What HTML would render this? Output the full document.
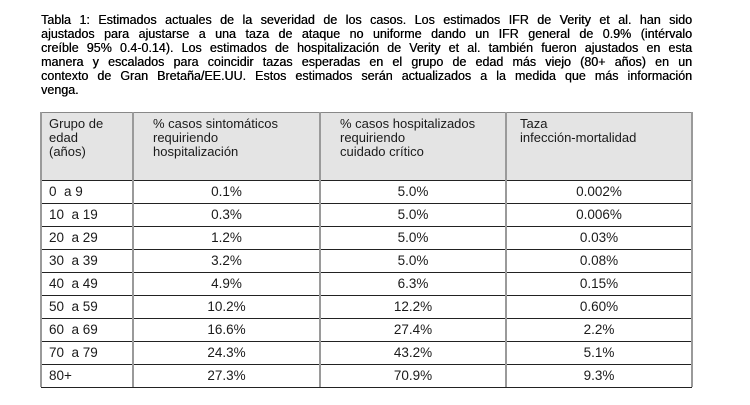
<!DOCTYPE html>
<html><head><meta charset="utf-8"><style>
body{margin:0;width:750px;height:405px;background:#fff;position:relative;font-family:"Liberation Sans",sans-serif;color:#000;overflow:hidden}
.l{position:absolute;left:41px;width:651px;font-size:12.5px;line-height:14px;white-space:nowrap;text-align:justify;text-align-last:justify;text-shadow:0.3px 0 0 #000}
.hd{position:absolute;top:112px;height:68px;background:#e4e4e4;left:41px;width:651px}
.v{position:absolute;top:112px;height:275px;width:2px;background:#9a9a9a}
.hz{position:absolute;left:41px;width:651px;height:1px;background:#222}
.c{position:absolute;font-size:13.5px;line-height:23px;height:23px;text-align:center;color:#1a1a1a}
.ht{position:absolute;font-size:13px;line-height:14px;top:117px;color:#1a1a1a}
</style></head><body>
<div class="l" style="top:13px">Tabla 1: Estimados actuales de la severidad de los casos. Los estimados IFR de Verity et al. han sido</div>
<div class="l" style="top:27px">ajustados para ajustarse a una taza de ataque no uniforme dando un IFR general de 0.9% (intérvalo</div>
<div class="l" style="top:41px">creíble 95% 0.4-0.14). Los estimados de hospitalización de Verity et al. también fueron ajustados en esta</div>
<div class="l" style="top:55px">manera y escalados para coincidir tazas esperadas en el grupo de edad más viejo (80+ años) en un</div>
<div class="l" style="top:69px">contexto de Gran Bretaña/EE.UU. Estos estimados serán actualizados a la medida que más información</div>
<div class="l" style="top:83px;text-align-last:left">venga.</div>
<div class="hd"></div>
<div class="hz" style="top:112px;background:#888"></div>
<div class="hz" style="top:180px"></div>
<div class="hz" style="top:203px"></div>
<div class="hz" style="top:226px"></div>
<div class="hz" style="top:249px"></div>
<div class="hz" style="top:272px"></div>
<div class="hz" style="top:295px"></div>
<div class="hz" style="top:318px"></div>
<div class="hz" style="top:341px"></div>
<div class="hz" style="top:364px"></div>
<div class="hz" style="top:387px"></div>
<div class="v" style="left:40px"></div>
<div class="v" style="left:132px"></div>
<div class="v" style="left:319px"></div>
<div class="v" style="left:505px"></div>
<div class="v" style="left:691px"></div>
<div class="ht" style="left:49px">Grupo de<br>edad<br>(años)</div>
<div class="ht" style="left:153px">% casos sintomáticos<br>requiriendo<br>hospitalización</div>
<div class="ht" style="left:340px">% casos hospitalizados<br>requiriendo<br>cuidado crítico</div>
<div class="ht" style="left:520px">Taza<br>infección-mortalidad</div>
<div id="rows"></div>
<script>
var d=[["0 &nbsp;a 9","0.1%","5.0%","0.002%"],["10 &nbsp;a 19","0.3%","5.0%","0.006%"],["20 &nbsp;a 29","1.2%","5.0%","0.03%"],["30 &nbsp;a 39","3.2%","5.0%","0.08%"],["40 &nbsp;a 49","4.9%","6.3%","0.15%"],["50 &nbsp;a 59","10.2%","12.2%","0.60%"],["60 &nbsp;a 69","16.6%","27.4%","2.2%"],["70 &nbsp;a 79","24.3%","43.2%","5.1%"],["80+","27.3%","70.9%","9.3%"]];
var h="";d.forEach(function(r,i){var t=180+i*23;
h+='<div class="c" style="top:'+t+'px;left:49px;text-align:left">'+r[0]+'</div>';
h+='<div class="c" style="top:'+t+'px;left:133px;width:187px">'+r[1]+'</div>';
h+='<div class="c" style="top:'+t+'px;left:320px;width:186px">'+r[2]+'</div>';
h+='<div class="c" style="top:'+t+'px;left:506px;width:186px">'+r[3]+'</div>';});
document.getElementById("rows").innerHTML=h;
</script>
</body></html>
